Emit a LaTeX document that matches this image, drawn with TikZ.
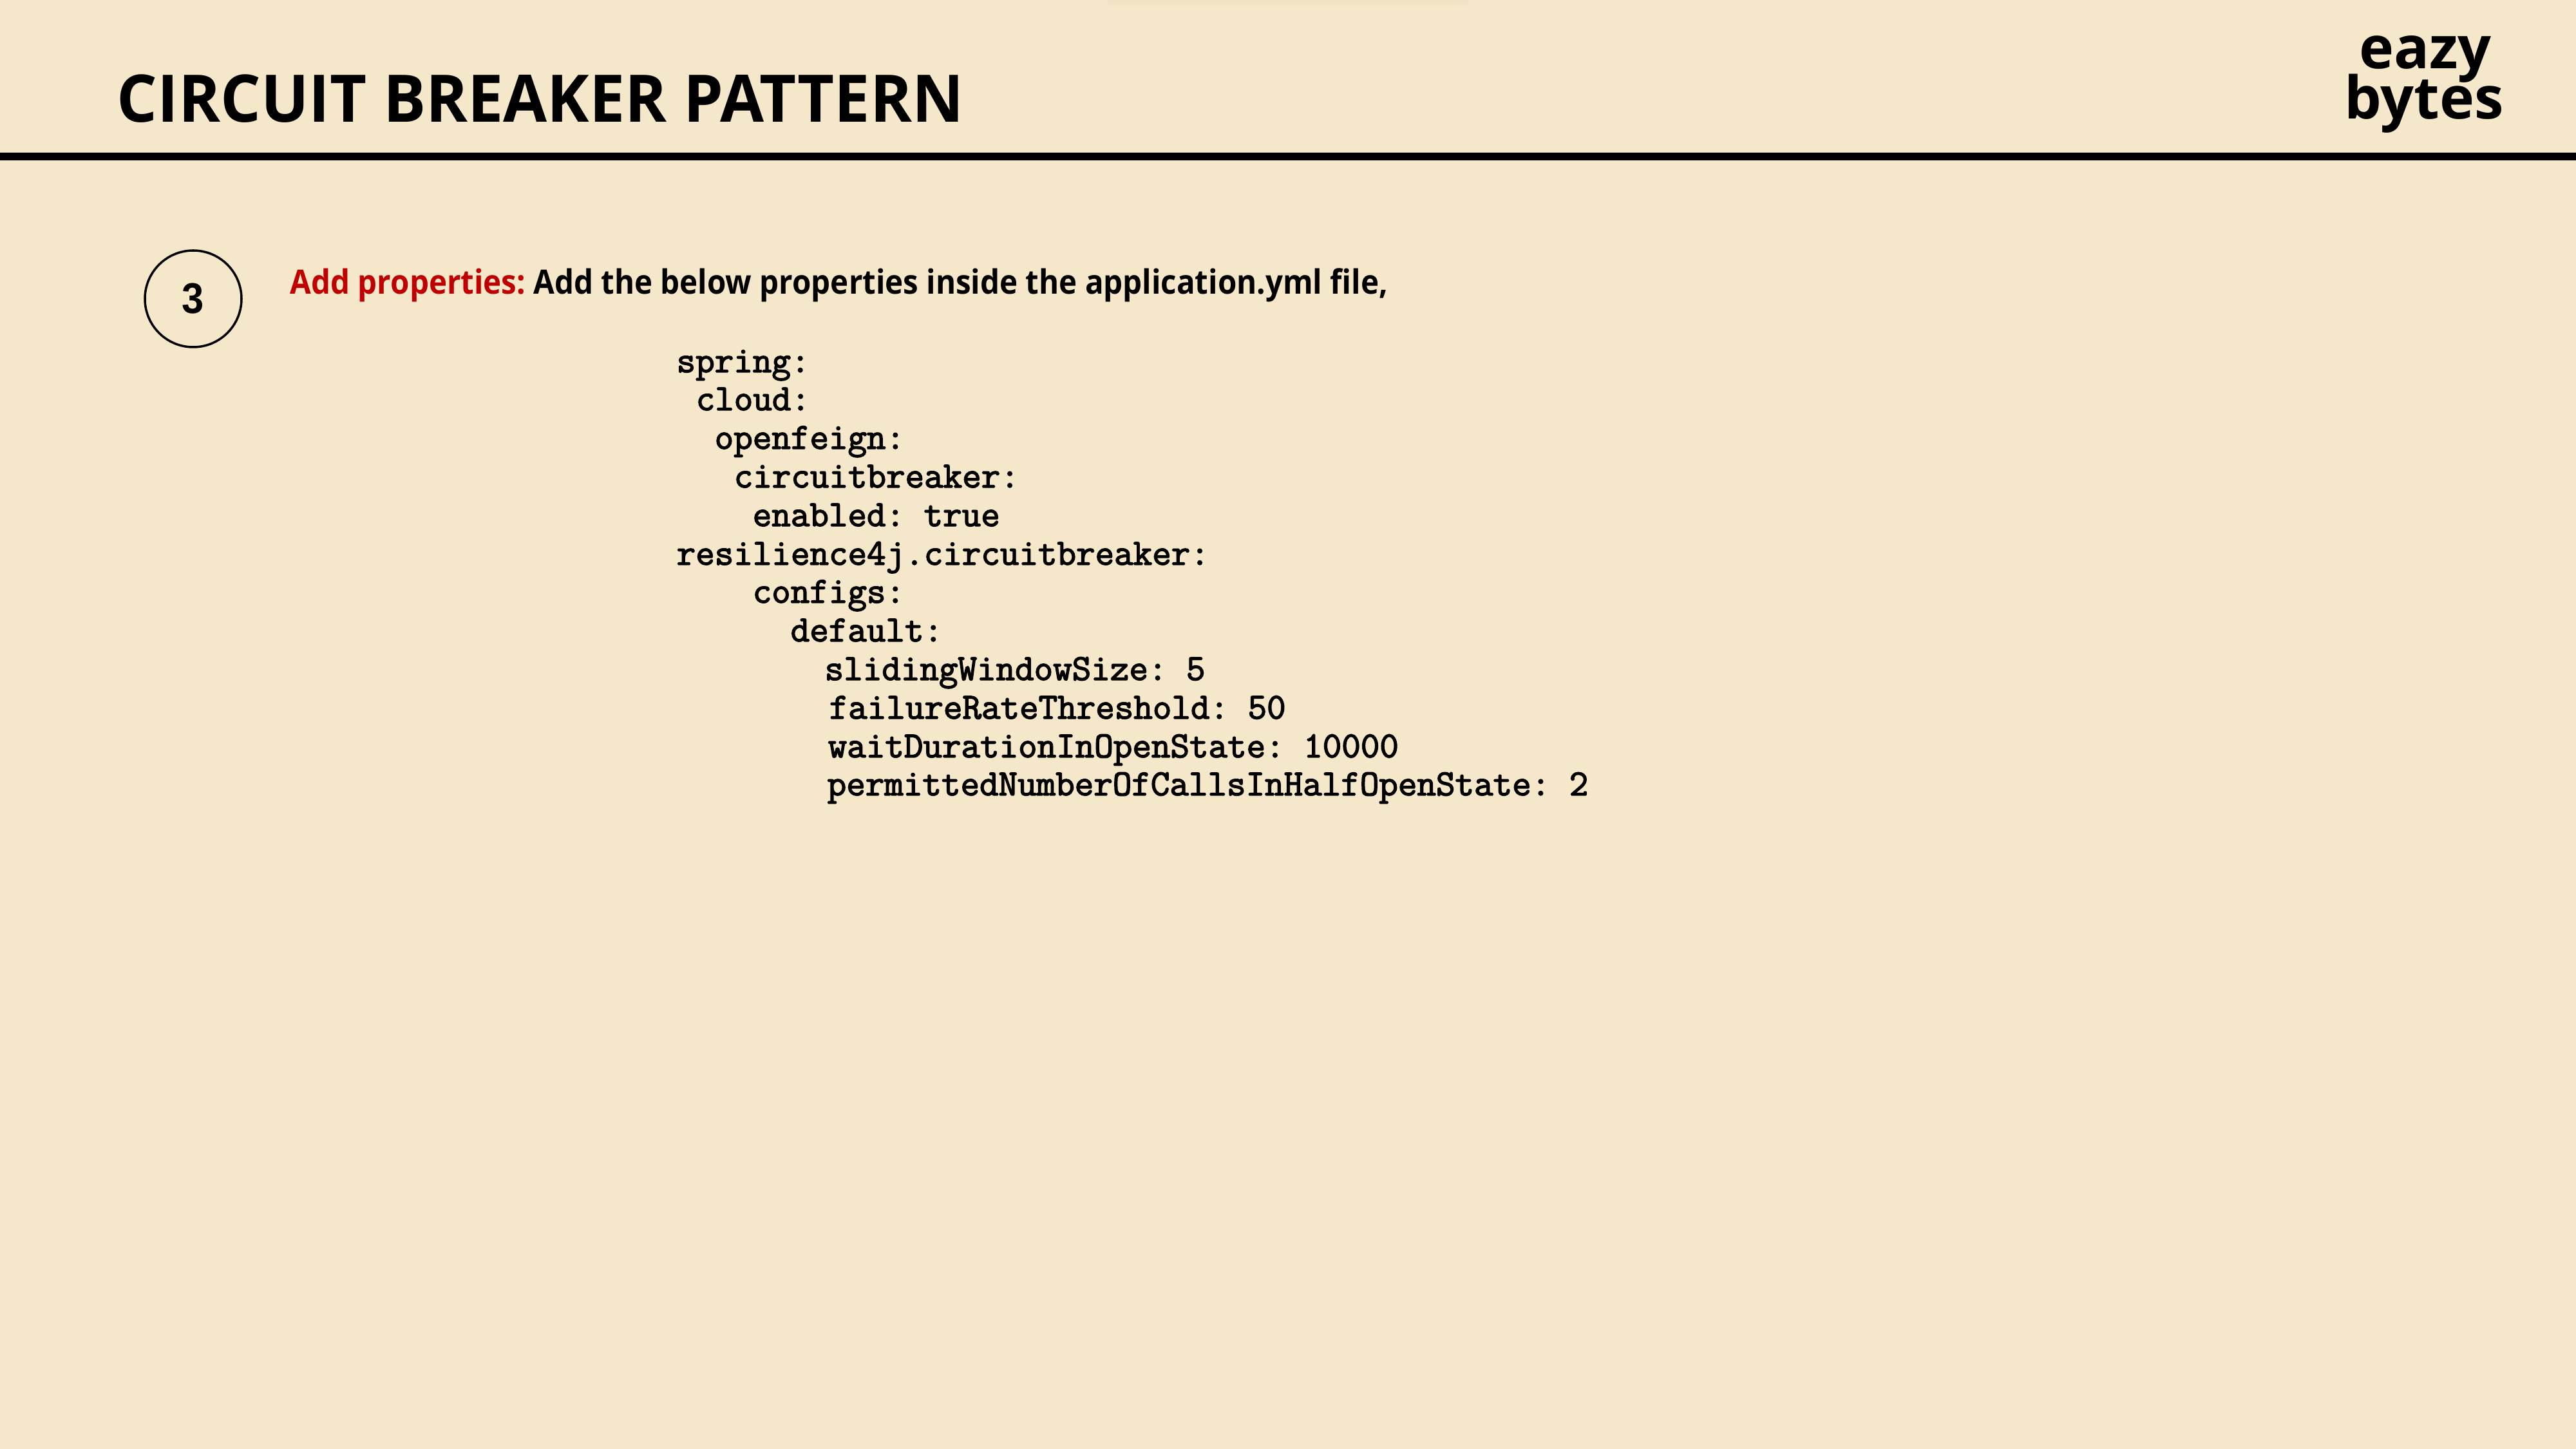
\documentclass[tikz,border=0pt]{standalone}
\usepackage{fontspec}
\setmainfont{Open Sans}
\newfontfamily\titlefont[FakeStretch=0.968]{Open Sans}
\newfontfamily\introfont[FakeStretch=0.913]{Open Sans}
\newfontfamily\badgefont[FakeStretch=0.92]{Liberation Sans}
\newfontfamily\codefont[FakeBold=2.6]{Latin Modern Mono}
\frenchspacing
\usepackage{tikz}
\usetikzlibrary{positioning}
\definecolor{pagecream}{HTML}{F5E7C9}
\definecolor{smudge}{HTML}{F1E2C4}
\definecolor{addred}{HTML}{C00000}
\begin{document}
\begin{tikzpicture}[
    x=1cm, y=-1cm,
    heading/.style={anchor=base west, inner sep=0pt, font=\fontsize{29}{29}\selectfont\titlefont\bfseries},
    brand/.style={anchor=base, inner sep=0pt, font=\fontsize{26}{26}\selectfont\bfseries},
    badge/.style={circle, draw=black, line width=1pt, minimum size=1.5cm, inner sep=0pt, font=\fontsize{19}{19}\selectfont\badgefont\bfseries},
    intro/.style={anchor=base west, inner sep=0pt, font=\fontsize{14.8}{14.8}\selectfont\introfont\bfseries},
    codeline/.style={anchor=base west, inner sep=0pt, font=\fontsize{16.32}{16.32}\selectfont\codefont}
]
\fill[pagecream] (0,0) rectangle (40,22.5);
\useasboundingbox (0,0) rectangle (40,22.5);
\shade[top color=smudge, bottom color=pagecream] (17.2,0) rectangle (22.8,0.12);
\fill[black] (0,2.37) rectangle (40,2.49);
\node (title) [heading] at (1.81,1.90) {CIRCUIT BREAKER PATTERN};
\node (eazy) [brand] at (37.66,1.07) {eazy};
\node (bytes) [brand] at (37.64,1.85) {bytes};
\node (three) [badge] at (3.00,4.64) {3};
% instruction line
\node (intro) [intro] at (4.50,4.57) {\textcolor{addred}{Add properties:} Add the below properties inside the application.yml file,};
% yaml, one node per line
\node (spring) [codeline] at (10.50,5.78) {spring:};
\node (cloud) [codeline] at (10.80,6.37) {cloud:};
\node (feign) [codeline] at (11.09,6.97) {openfeign:};
\node (breaker) [codeline] at (11.39,7.57) {circuitbreaker:};
\node (enabled) [codeline] at (11.68,8.17) {enabled: true};
\node (resil) [codeline] at (10.50,8.77) {resilience4j.circuitbreaker:};
\node (configs) [codeline] at (11.68,9.36) {configs:};
\node (default) [codeline] at (12.27,9.96) {default:};
\node (sliding) [codeline] at (12.80,10.56) {slidingWindowSize: 5};
\node (failure) [codeline] at (12.87,11.16) {failureRateThreshold: 50};
\node (wait) [codeline] at (12.85,11.76) {waitDurationInOpenState: 10000};
\node (permit) [codeline] at (12.84,12.35) {permittedNumberOfCallsInHalfOpenState: 2};
\end{tikzpicture}
\end{document}
